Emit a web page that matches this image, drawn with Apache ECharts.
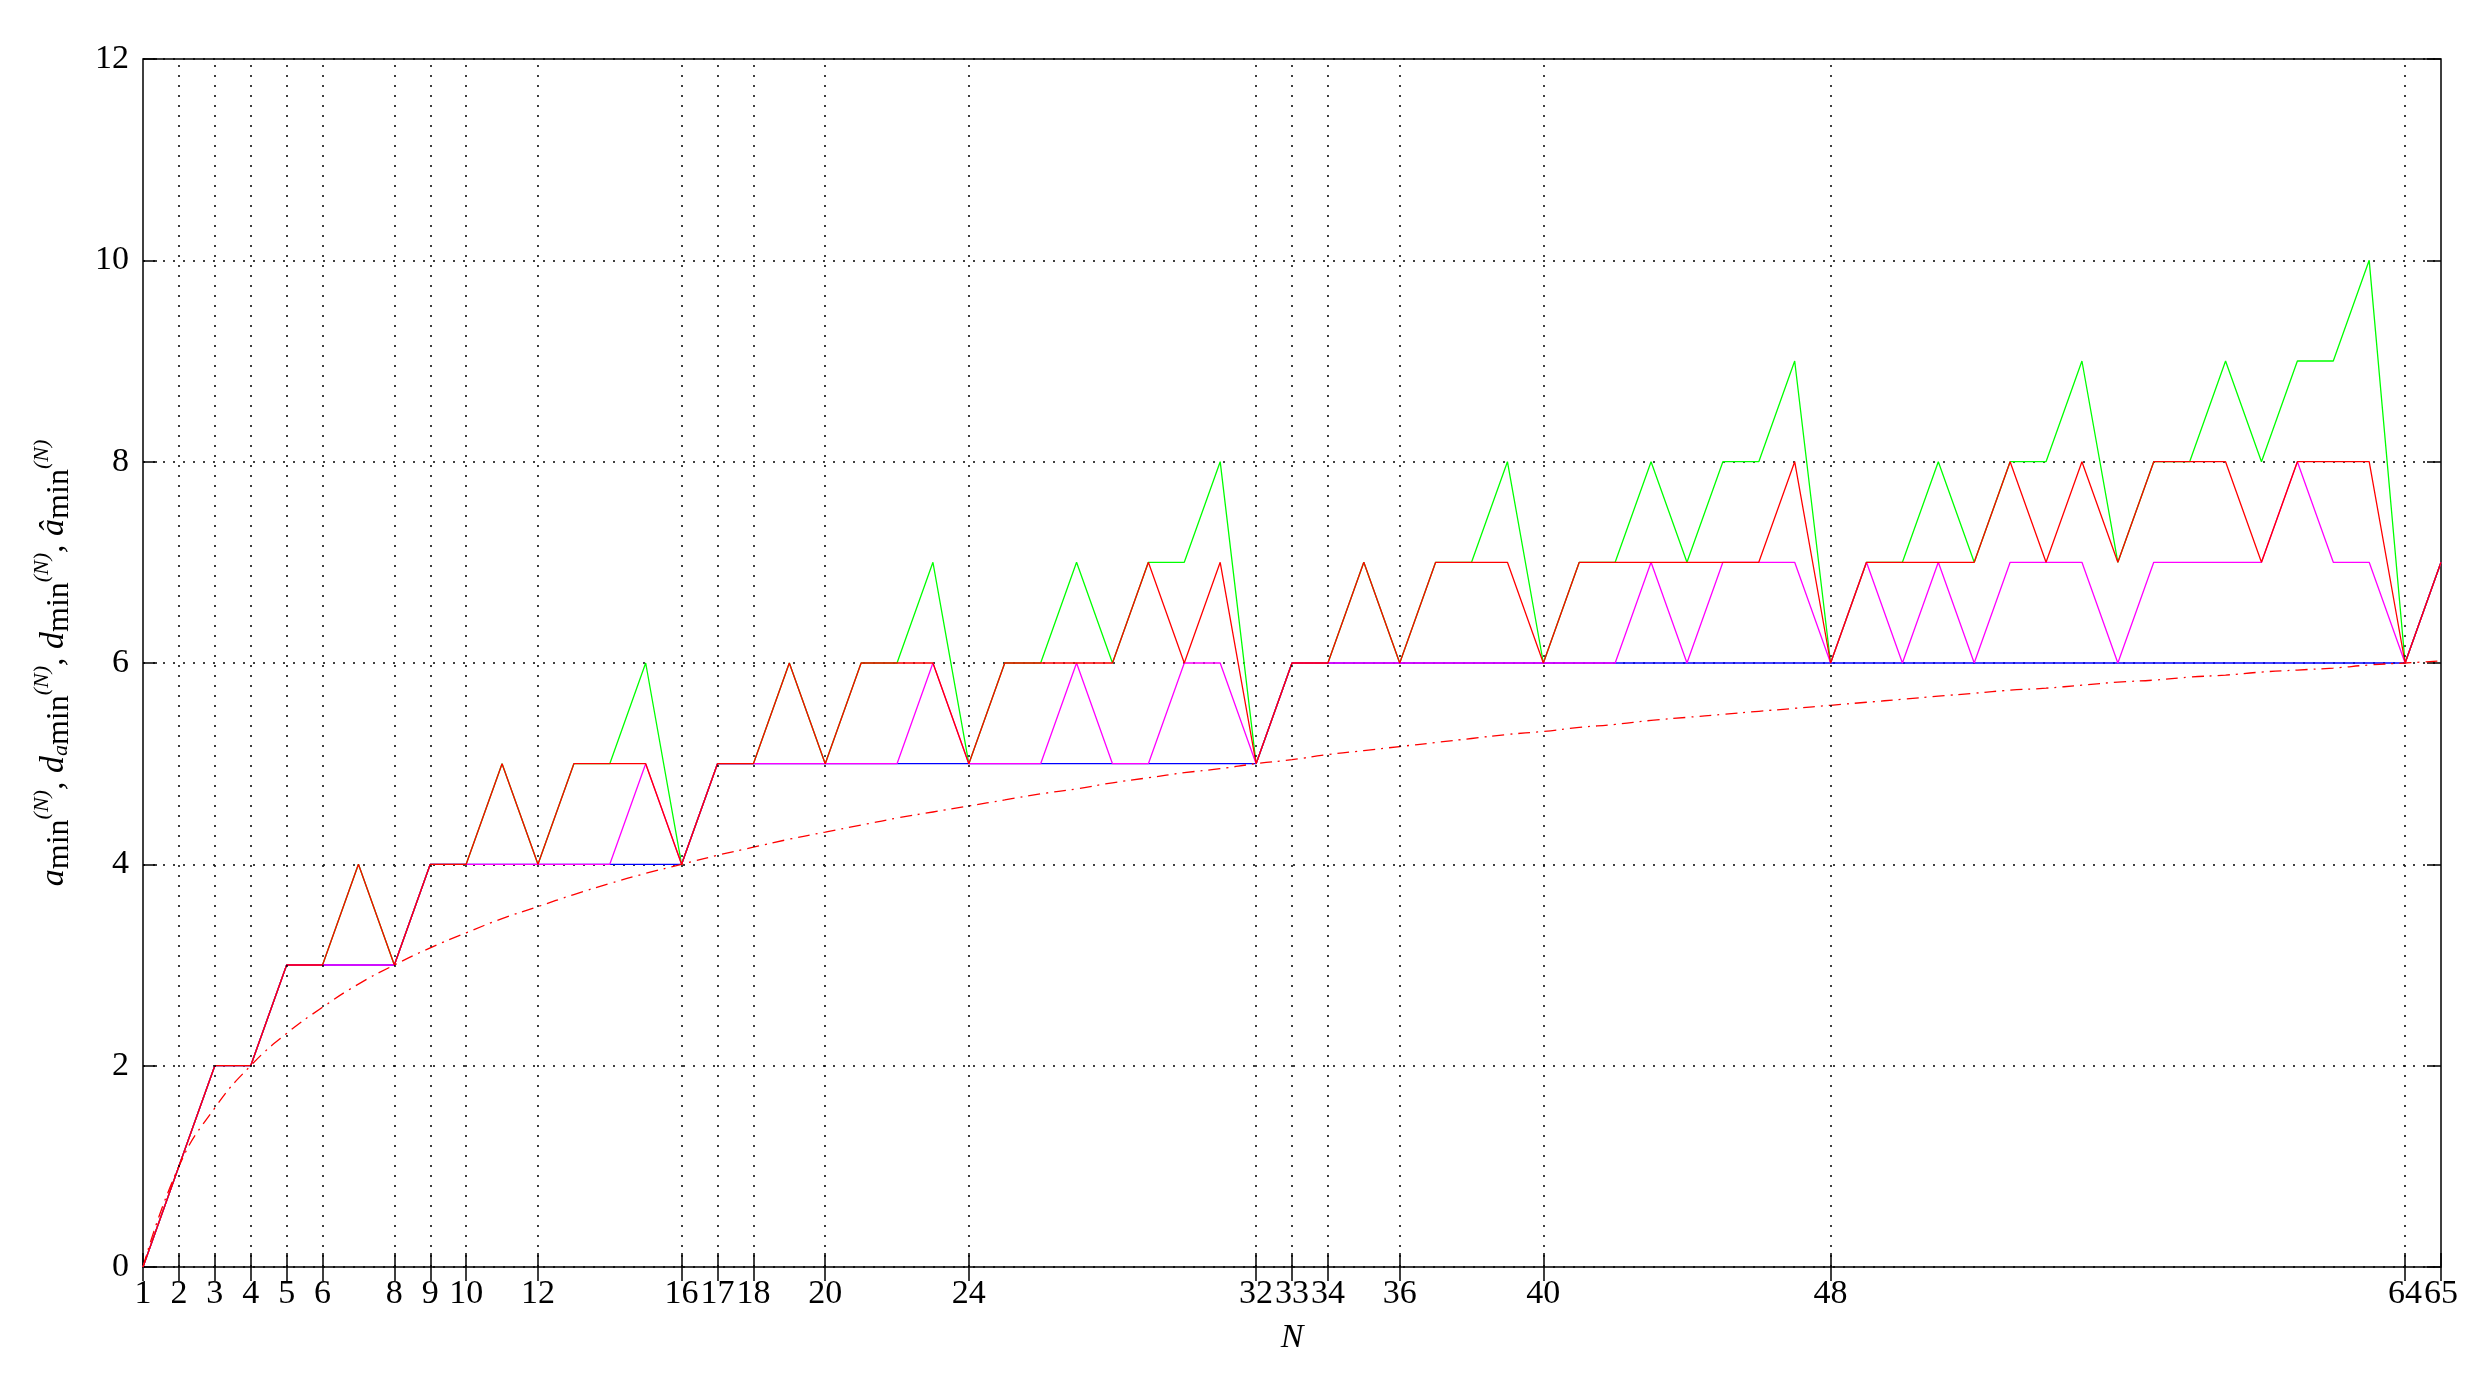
<!DOCTYPE html>
<html><head><meta charset="utf-8">
<script src="https://cdn.jsdelivr.net/npm/echarts@6/dist/echarts.min.js"></script>
<style>html,body{margin:0;padding:0;background:#fff}#c{width:2478px;height:1373px}</style>
</head><body><div id="c"></div>
<script>
const N = Array.from({length:65},(_,i)=>i+1);
const xTicks = [1,2,3,4,5,6,8,9,10,12,16,17,18,20,24,32,33,34,36,40,48,64,65];
const yTicks = [0,2,4,6,8,10,12];
const green = [0,1,2,2,3,3,4,3,4,4,5,4,5,5,6,4, 5,5,6,5,6,6,7,5,6,6,7,6,7,7,8,5, 6,6,7,6,7,7,8,6,7,7,8,7,8,8,9,6, 7,7,8,7,8,8,9,7,8,8,9,8,9,9,10,6,7];
const red   = [0,1,2,2,3,3,4,3,4,4,5,4,5,5,5,4, 5,5,6,5,6,6,6,5,6,6,6,6,7,6,7,5, 6,6,7,6,7,7,7,6,7,7,7,7,7,7,8,6, 7,7,7,7,8,7,8,7,8,8,8,7,8,8,8,6,7];
const magenta=[0,1,2,2,3,3,3,3,4,4,4,4,4,4,5,4, 5,5,5,5,5,5,6,5,5,5,6,5,5,6,6,5, 6,6,6,6,6,6,6,6,6,6,7,6,7,7,7,6, 7,6,7,6,7,7,7,6,7,7,7,7,8,7,7,6,7];
const blue  = [0,1,2,2,3,3,3,3,4,4,4,4,4,4,4,4, 5,5,5,5,5,5,5,5,5,5,5,5,5,5,5,5, 6,6,6,6,6,6,6,6,6,6,6,6,6,6,6,6, 6,6,6,6,6,6,6,6,6,6,6,6,6,6,6,6,7];
const bound = [0,1,1.58,2,2.32,2.58,2.81,3,3.17,3.32,3.46,3.58,3.70,3.81,3.91,4,4.09,4.17,4.25,4.32,4.39,4.46,4.52,4.58,4.64,4.70,4.75,4.81,4.86,4.91,4.95,5,5.04,5.09,5.13,5.17,5.21,5.25,5.29,5.32,5.36,5.39,5.43,5.46,5.49,5.52,5.55,5.58,5.61,5.64,5.67,5.70,5.73,5.75,5.78,5.81,5.83,5.86,5.88,5.91,5.93,5.95,5.98,6,6.02];

const font = 'Liberation Serif';
const pair = a => N.map((n,i)=>[n,a[i]]);
const line = (name,a,color,extra) => Object.assign({name,type:'line',data:pair(a),symbol:'none',lineStyle:{color,width:1.3},itemStyle:{color},animation:false,silent:true},extra||{});

const chart = echarts.init(document.getElementById('c'));
chart.setOption({
  backgroundColor:'#fff',
  grid:{left:143,right:37,top:59,bottom:106,show:true,borderColor:'#000',borderWidth:1.5,backgroundColor:'transparent'},
  xAxis:[{type:'value',min:1,max:65,interval:1,
    name:'N',nameLocation:'middle',nameGap:54,nameTextStyle:{fontFamily:font,fontSize:34,fontStyle:'italic',color:'#000'},
    axisLine:{show:false},
    axisTick:{inside:true,length:14,customValues:xTicks,lineStyle:{color:'#000',width:1.5}},
    axisLabel:{customValues:xTicks,fontFamily:font,fontSize:34,color:'#000',margin:10},
    splitLine:{show:false}},
   {type:'value',min:1,max:65,position:'top',axisLine:{show:false},
    axisTick:{inside:true,length:14,customValues:xTicks,lineStyle:{color:'#000',width:1.5}},
    axisLabel:{show:false},splitLine:{show:false}}],
  yAxis:[{type:'value',min:0,max:12,interval:2,
    name:'a{b|min}{s|(N)}, d{c|a}{b|min}{s|(N)}, d{b|min}{s|(N)}, â{b|min}{s|(N)}',
    nameLocation:'middle',nameGap:66,nameRotate:90,
    nameTextStyle:{fontFamily:font,fontSize:34,fontStyle:'italic',color:'#000',
      rich:{b:{fontFamily:font,fontSize:32,fontStyle:'normal',color:'#000',padding:[12,0,0,0]},
            s:{fontFamily:font,fontSize:22,fontStyle:'italic',color:'#000',padding:[0,0,24,0]},
            c:{fontFamily:font,fontSize:22,fontStyle:'italic',color:'#000',padding:[14,0,0,0]}}},
    axisLine:{show:false},
    axisTick:{inside:true,length:14,lineStyle:{color:'#000',width:1.5}},
    axisLabel:{fontFamily:font,fontSize:34,color:'#000',margin:14},
    splitLine:{show:true,lineStyle:{color:'#000',type:[2,8],width:1.5}}},
   {type:'value',min:0,max:12,interval:2,position:'right',axisLine:{show:false},
    axisTick:{inside:true,length:14,lineStyle:{color:'#000',width:1.5}},
    axisLabel:{show:false},splitLine:{show:false}}],
  series:[
    {type:'line',data:[],silent:true,animation:false,
     markLine:{symbol:'none',silent:true,animation:false,label:{show:false},
       lineStyle:{color:'#000',type:[2,8],width:1.5},
       data:xTicks.filter(v=>v!==1&&v!==65).map(v=>({xAxis:v}))}},
    line('green',green,'#00ff00'),
    line('blue',blue,'#0000ff'),
    line('magenta',magenta,'#ff00ff'),
    line('red',red,'#ff0000'),
    line('bound',bound,'#ff0000',{smooth:true,lineStyle:{color:'#ff0000',width:1.3,type:[12,6,2,6]}})
  ]
});
</script></body></html>
